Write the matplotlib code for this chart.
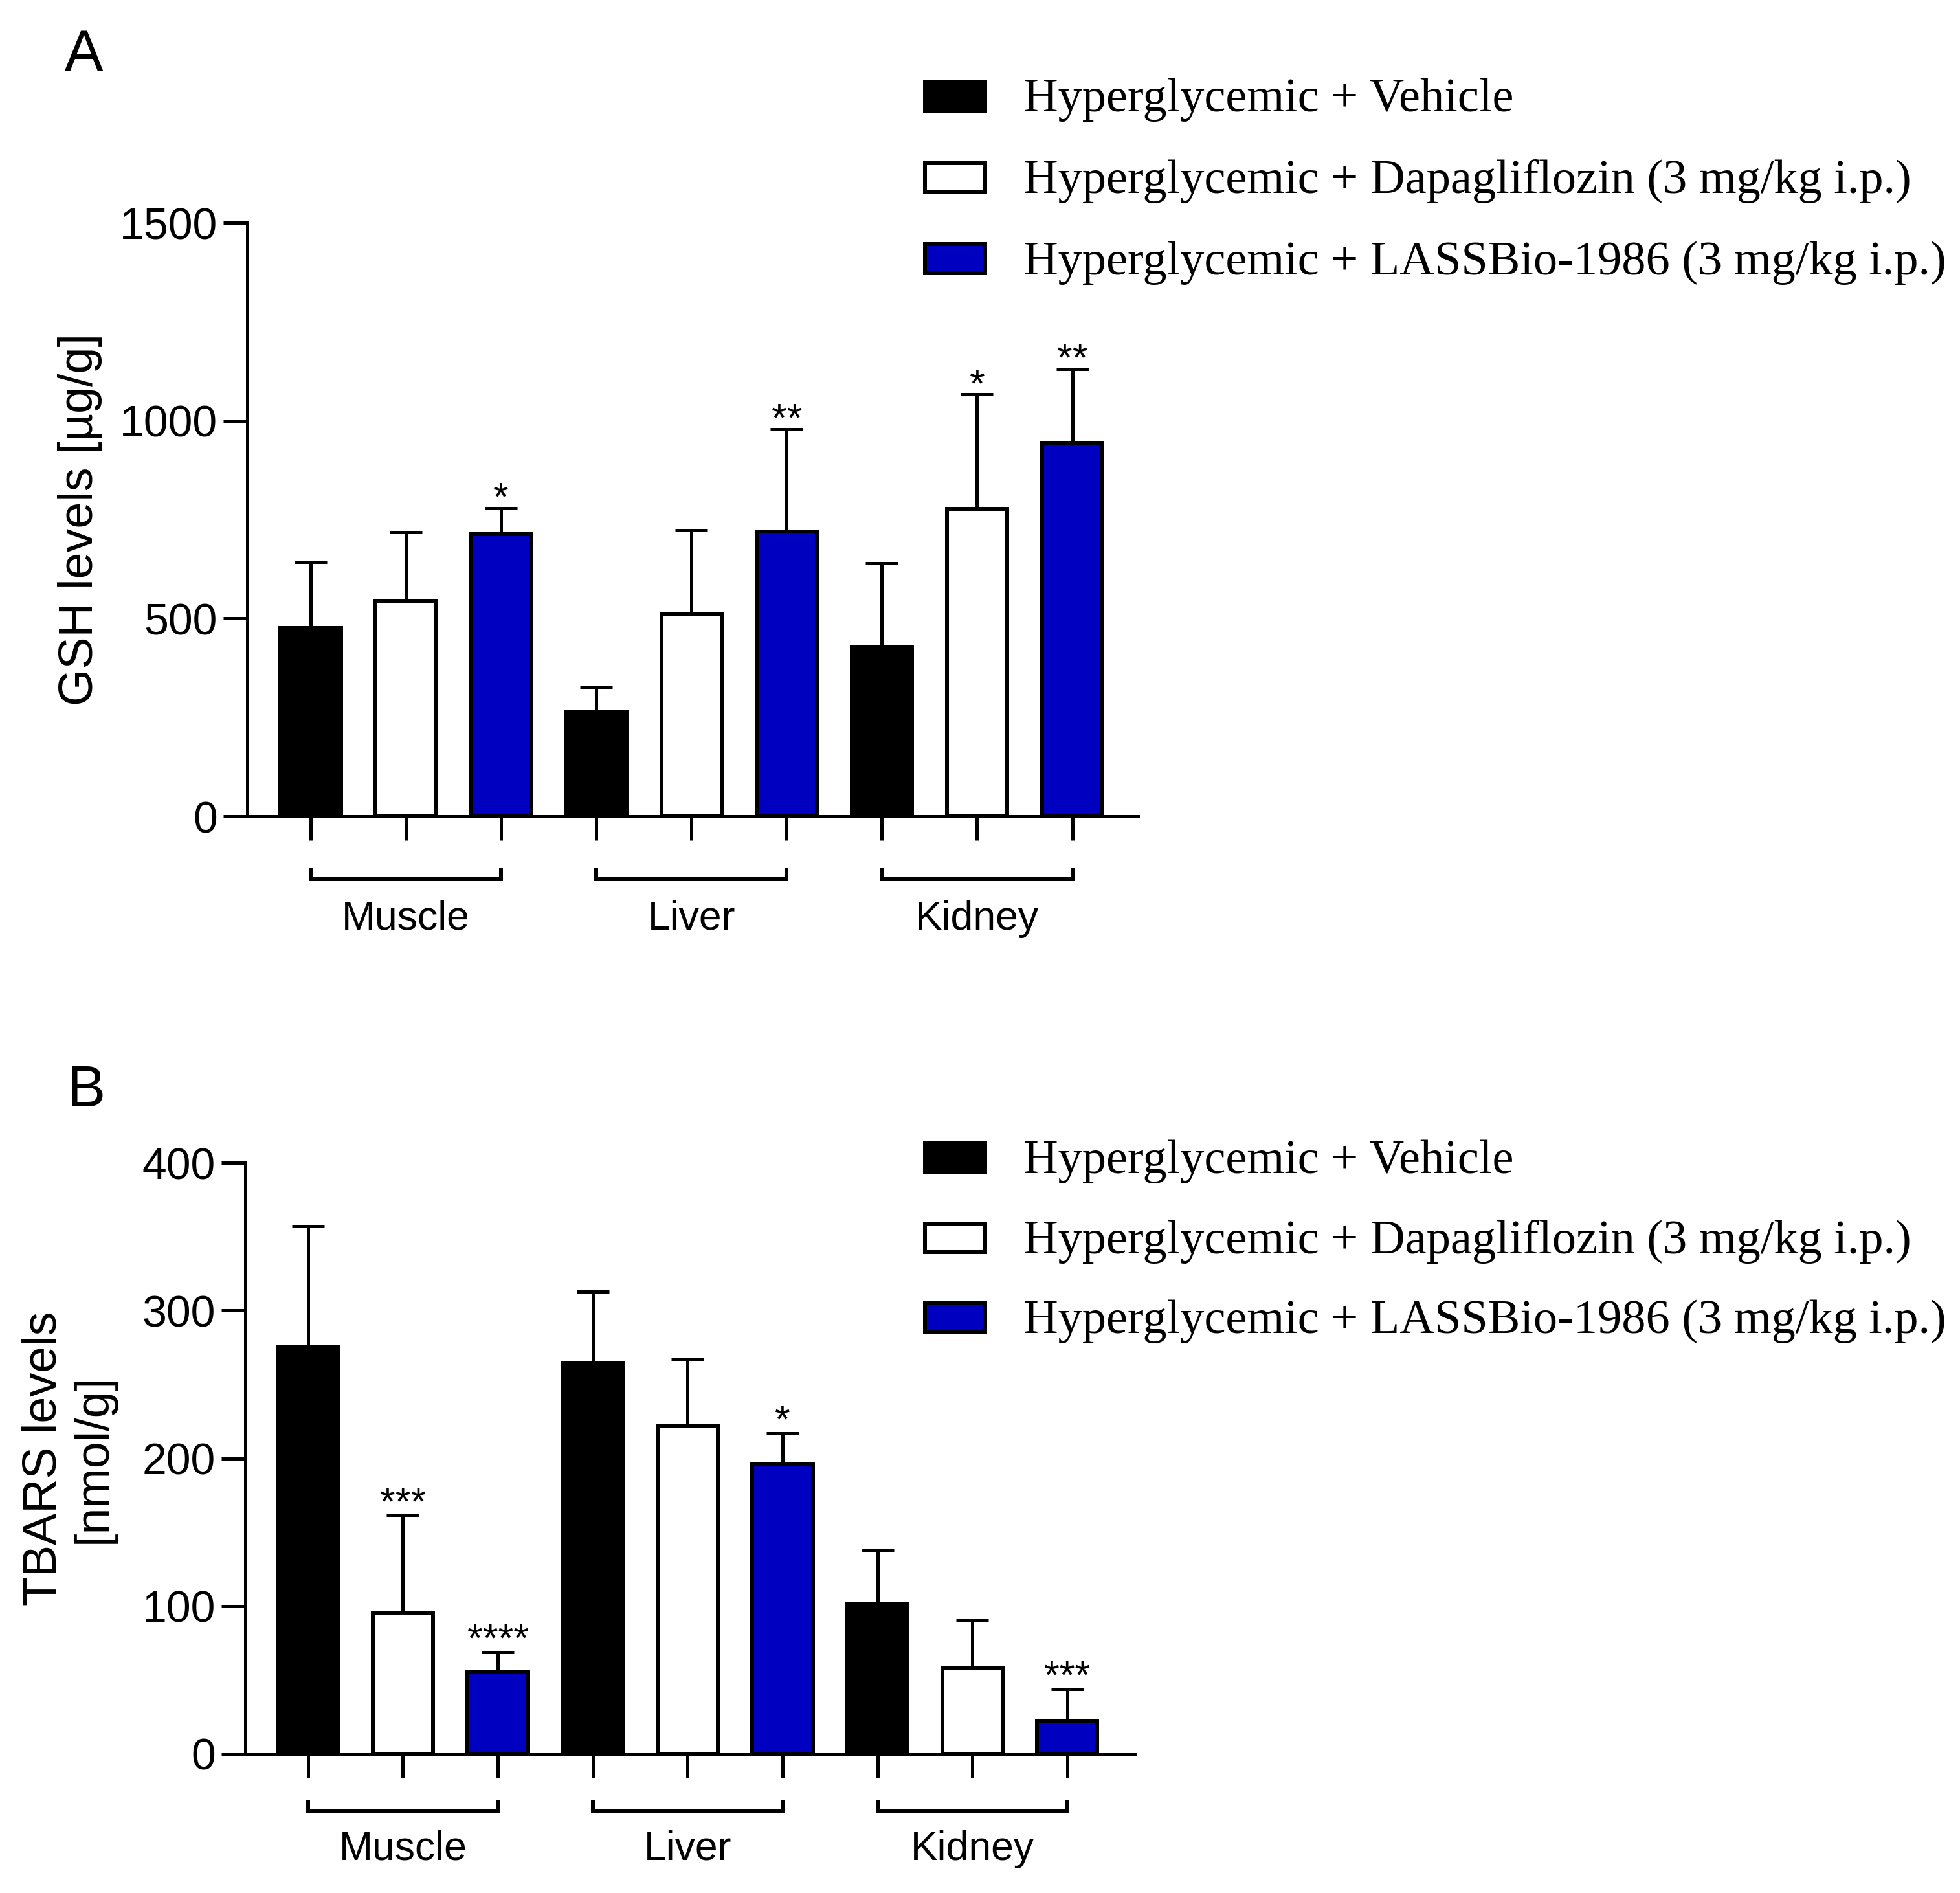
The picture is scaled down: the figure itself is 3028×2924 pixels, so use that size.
import matplotlib
matplotlib.use("Agg")
import matplotlib.pyplot as plt
import matplotlib.transforms as mtransforms
from matplotlib.patches import Rectangle
import numpy as np

# ---------------- data ----------------
tissues = ["Muscle", "Liver", "Kidney"]
groups = ["Hyperglycemic + Vehicle",
          "Hyperglycemic + Dapagliflozin (3 mg/kg i.p.)",
          "Hyperglycemic + LASSBio-1986 (3 mg/kg i.p.)"]

gsh_vehicle = [476, 265, 428]
gsh_dapa = [543, 511, 777]
gsh_lass = [714, 720, 944]
gsh_vehicle_sd = [167, 62, 211]
gsh_dapa_sd = [175, 212, 289]
gsh_lass_sd = [65, 259, 187]
gsh_sig_vehicle = ["", "", ""]
gsh_sig_dapa = ["", "", "*"]
gsh_sig_lass = ["*", "**", "**"]

tbars_vehicle = [275, 264, 101.5]
tbars_dapa = [95.5, 222, 58]
tbars_lass = [55, 196, 22.5]
tbars_vehicle_sd = [82, 49, 36.5]
tbars_dapa_sd = [66, 45, 32.5]
tbars_lass_sd = [14, 21, 21.5]
tbars_sig_vehicle = ["", "", ""]
tbars_sig_dapa = ["***", "", ""]
tbars_sig_lass = ["****", "*", "***"]

gsh_ticks = [0, 500, 1000, 1500]
tbars_ticks = [0, 100, 200, 300, 400]

# ---------------- style ----------------
W, H = 3028, 2924
DPI = 100
PX = 72.0 / DPI  # points per pixel
BLUE = "#0000C0"
colors = ["black", "white", BLUE]
SANS = ["Liberation Sans", "DejaVu Sans"]
SERIF = ["Liberation Serif", "DejaVu Serif"]
LW = 5 * PX

plt.rcParams["font.family"] = SANS

fig = plt.figure(figsize=(W / DPI, H / DPI), dpi=DPI)


def make_panel(rect, means_list, sd_list, sig_list, ticks, ymax, ylabel,
               label_x, bracket_dy, text_dy, xlim, legend_centers, letter,
               letter_xy, sig_off):
    ax = fig.add_axes(rect)
    n_t = len(tissues)
    for g in range(3):
        xs = np.arange(n_t) * 3 + g
        ax.bar(xs, means_list[g], width=0.635, color=colors[g],
               edgecolor="black", linewidth=6 * PX, zorder=2)
        ax.errorbar(xs, means_list[g], yerr=[np.zeros(n_t), sd_list[g]],
                    fmt="none", ecolor="black", elinewidth=LW,
                    capsize=25 * PX, capthick=LW, zorder=1)
        tops = np.array(means_list[g]) + np.array(sd_list[g])
        for x, t, s in zip(xs, tops, sig_list[g]):
            if s:
                ax.annotate(s, (x, t), xytext=(0, sig_off),
                            textcoords="offset points",
                            ha="center", va="baseline", fontsize=44,
                            family=SANS)
    ax.set_xlim(*xlim)
    ax.set_ylim(0, ymax)
    ax.set_yticks(ticks)
    ax.set_yticklabels([str(t) for t in ticks])
    ax.set_xticks(np.arange(9))
    ax.set_xticklabels([])
    for sp in ["top", "right"]:
        ax.spines[sp].set_visible(False)
    for sp in ["left", "bottom"]:
        ax.spines[sp].set_linewidth(LW)
    ax.tick_params(axis="both", length=37 * PX, width=LW, direction="out")
    ax.tick_params(axis="y", labelsize=49, pad=9 * PX)
    ax.set_ylabel(ylabel, fontsize=53, linespacing=1.15)
    ax.yaxis.label.set_va("center")
    ax.yaxis.set_label_coords(label_x, 0.5)

    # group brackets
    base = mtransforms.blended_transform_factory(ax.transData, ax.transAxes)
    tr_b = base + mtransforms.ScaledTranslation(0, -bracket_dy / DPI, fig.dpi_scale_trans)
    tr_t = base + mtransforms.ScaledTranslation(0, -text_dy / DPI, fig.dpi_scale_trans)
    up = 17.0 / (rect[3] * H)
    for i, name in enumerate(tissues):
        x0, x1 = 3 * i, 3 * i + 2
        ax.plot([x0, x0, x1, x1], [up, 0, 0, up], color="black", lw=6 * PX,
                transform=tr_b, clip_on=False, solid_joinstyle="miter",
                solid_capstyle="butt")
        ax.text(3 * i + 1, 0, name, transform=tr_t, ha="center", va="center",
                fontsize=45)

    # legend (manual)
    for g in range(3):
        cy = legend_centers[g]
        bx0, bx1 = 1429, 1522
        bh = 44
        fig.add_artist(Rectangle((bx0 / W, 1 - (cy + bh / 2) / H),
                                 (bx1 - bx0) / W, bh / H,
                                 facecolor=colors[g], edgecolor="black",
                                 linewidth=6 * PX, transform=fig.transFigure))
        fig.text(1581 / W, 1 - (cy + 24) / H, groups[g], family=SERIF,
                 fontsize=53.6, ha="left", va="baseline")

    fig.text(letter_xy[0] / W, 1 - letter_xy[1] / H, letter, fontsize=64,
             ha="left", va="baseline")
    return ax


# Panel A
make_panel([382 / W, 1 - 1261 / H, (1758 - 382) / W, (1261 - 344) / H],
           [gsh_vehicle, gsh_dapa, gsh_lass],
           [gsh_vehicle_sd, gsh_dapa_sd, gsh_lass_sd],
           [gsh_sig_vehicle, gsh_sig_dapa, gsh_sig_lass],
           gsh_ticks, 1500, "GSH levels [µg/g]", -0.188, 97, 158,
           (-0.667, 8.69), [148.5, 274.5, 399.5], "A", (100, 109), -2)

# Panel B
make_panel([379 / W, 1 - 2709 / H, (1753 - 379) / W, (2709 - 1796) / H],
           [tbars_vehicle, tbars_dapa, tbars_lass],
           [tbars_vehicle_sd, tbars_dapa_sd, tbars_lass_sd],
           [tbars_sig_vehicle, tbars_sig_dapa, tbars_sig_lass],
           tbars_ticks, 400, "TBARS levels\n[nmol/g]", -0.1987, 88, 147,
           (-0.66, 8.71), [1788, 1912, 2035], "B", (104, 1709), 1)

fig.savefig("out.png", dpi=DPI, facecolor="white")
